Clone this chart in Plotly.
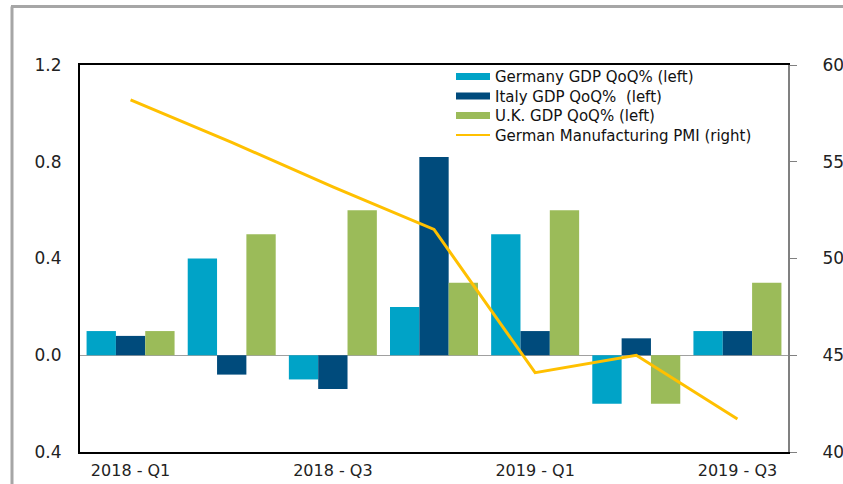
import plotly.graph_objects as go

quarters = ["2018 - Q1", "2018 - Q2", "2018 - Q3", "2018 - Q4",
            "2019 - Q1", "2019 - Q2", "2019 - Q3"]
germany_gdp = [0.1, 0.4, -0.1, 0.2, 0.5, -0.2, 0.1]
italy_gdp = [0.08, -0.08, -0.14, 0.82, 0.1, 0.07, 0.1]
uk_gdp = [0.1, 0.5, 0.6, 0.3, 0.6, -0.2, 0.3]
german_pmi = [58.2, 56.0, 53.7, 51.5, 44.1, 45.0, 41.7]

left_ticks = [-0.4, 0.0, 0.4, 0.8, 1.2]
left_labels = ["0.4", "0.0", "0.4", "0.8", "1.2"]
right_ticks = [40, 45, 50, 55, 60]
shown_quarters = ["2018 - Q1", "2018 - Q3", "2019 - Q1", "2019 - Q3"]

names = ["Germany GDP QoQ% (left)", "Italy GDP QoQ%  (left)",
         "U.K. GDP QoQ% (left)", "German Manufacturing PMI (right)"]
colors = ["#00A3C7", "#004B7C", "#9BBB59", "#FFC000"]

font = "DejaVu Sans, Arial, sans-serif"

fig = go.Figure()
for vals, name, col in zip([germany_gdp, italy_gdp, uk_gdp], names[:3], colors[:3]):
    fig.add_trace(go.Bar(x=quarters, y=vals, name=name, marker_color=col,
                         marker_line_width=0, yaxis="y"))
fig.add_trace(go.Scatter(x=quarters, y=german_pmi, name=names[3], mode="lines",
                         line=dict(color=colors[3], width=3), yaxis="y2"))

fig.update_layout(
    width=843, height=484,
    margin=dict(l=80, r=55, t=65, b=32),
    plot_bgcolor="white", paper_bgcolor="white",
    barmode="group", bargap=0.13, bargroupgap=0,
    showlegend=False,
    font=dict(family=font, size=17, color="#222222"),
    xaxis=dict(type="category", tickmode="array", tickvals=shown_quarters,
               ticktext=shown_quarters, showline=True, linecolor="black",
               linewidth=2, mirror=True, ticks="", showgrid=False,
               ticklabelstandoff=3, automargin=False,
               tickfont=dict(size=16)),
    yaxis=dict(range=[-0.4, 1.2], tickvals=left_ticks, ticktext=left_labels,
               showgrid=False, showline=True, linecolor="black", linewidth=2,
               ticks="", zeroline=True, zerolinecolor="#A0A0A0",
               zerolinewidth=1, ticklabelstandoff=13, automargin=False),
    yaxis2=dict(range=[40, 60], tickvals=right_ticks, overlaying="y",
                side="right", showgrid=False, showline=True,
                linecolor="#808080", linewidth=2, ticks="outside", ticklen=7,
                tickcolor="#808080", zeroline=False, ticklabelstandoff=22,
                automargin=False),
)

# outer grey frame (left and top edges)
def px_x(p):
    return (p - 80) / 708

def px_y(p):
    return (452 - p) / 387

fig.add_shape(type="line", xref="paper", yref="paper",
              x0=px_x(12), x1=px_x(12), y0=px_y(490), y1=px_y(6.5),
              line=dict(color="#A6A6A6", width=3))
fig.add_shape(type="line", xref="paper", yref="paper",
              x0=px_x(11), x1=px_x(850), y0=px_y(6.5), y1=px_y(6.5),
              line=dict(color="#A6A6A6", width=3))

# legend drawn by hand
rows = [76.5, 96, 115.5, 135]
for i, col in enumerate(colors):
    yc = rows[i]
    if i < 3:
        fig.add_shape(type="rect", xref="paper", yref="paper",
                      x0=px_x(456), x1=px_x(490), y0=px_y(yc - 3.5), y1=px_y(yc + 3.5),
                      fillcolor=col, line_width=0)
    else:
        fig.add_shape(type="line", xref="paper", yref="paper",
                      x0=px_x(456), x1=px_x(490), y0=px_y(yc), y1=px_y(yc),
                      line=dict(color=col, width=2))
fig.add_annotation(text="<br>".join(names), xref="paper", yref="paper",
                   x=px_x(493), y=px_y(rows[0] - 11), xanchor="left", yanchor="top",
                   align="left", showarrow=False,
                   font=dict(size=15, color="#111111"))

fig.write_html("out.html", post_script="document.body.style.margin='0px';",
               config={"displayModeBar": False})
